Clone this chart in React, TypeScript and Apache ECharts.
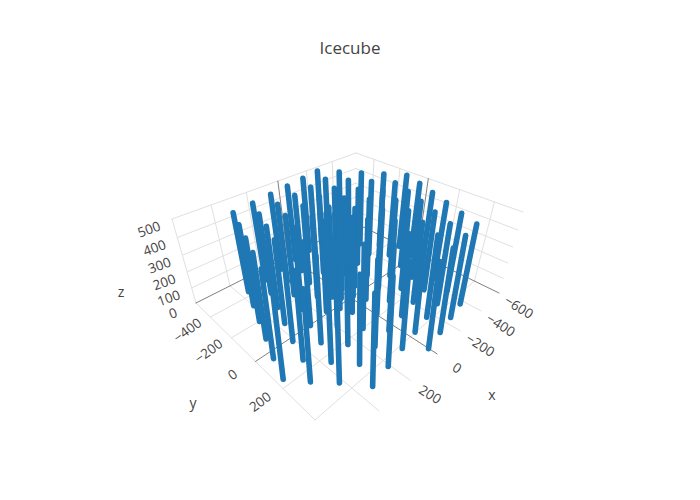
import React, { useEffect, useRef } from "react";
import * as echarts from "echarts";

// IceCube string positions (data units)
const stringX = [
  -256.1, -132.8, -9.1, 114.4, 237.8, 361.0,
  -334.8, -211.4, -88.0, 35.4, 158.8, 282.2, 405.6,
  -413.5, -290.1, -166.7, -43.3, 80.1, 203.5, 326.9, 450.3,
  -492.2, -368.8, -245.4, -122.0, 1.4, 124.8, 248.2, 371.6, 495.0,
  -570.9, -447.5, -324.1, -200.7, -77.3, 46.1, 169.5, 292.9, 416.3, 539.7,
  -534.2, -410.8, -287.4, -164.0, -40.6, 82.8, 206.2, 329.6, 453.0, 576.4,
  -489.6, -366.2, -242.8, -119.4, 4.0, 127.4, 250.8, 374.2, 505.0,
  -445.0, -321.6, -198.2, -74.8, 48.6, 172.0, 295.4, 424.0,
  -400.4, -277.0, -153.6, -30.2, 93.2, 216.6, 340.0,
  -360, -237, -113, 10,
  31.3, 72.4, 41.6, 106.9, 113.2, 57.2, -9.7, -11.0,
];
const stringY = [
  -521.1, -501.5, -481.7, -462.0, -442.4, -422.8,
  -424.1, -404.4, -384.7, -365.0, -345.3, -325.6, -305.9,
  -325.1, -305.4, -285.7, -266.0, -246.3, -226.6, -206.9, -187.2,
  -226.1, -206.4, -186.7, -167.0, -147.3, -127.6, -107.9, -88.2, -68.5,
  -125.1, -105.4, -85.7, -66.0, -46.3, -26.6, -6.9, 12.8, 32.5, 52.2,
  -6.4, 13.3, 33.0, 52.7, 72.4, 92.1, 111.8, 131.5, 151.2, 170.9,
  110.3, 130.0, 149.7, 169.4, 189.1, 208.8, 228.5, 248.2, 262.0,
  227.0, 246.7, 266.4, 286.1, 305.8, 325.5, 345.2, 352.0,
  343.7, 363.4, 383.1, 402.8, 422.5, 442.2, 461.9,
  450, 470, 490, 509,
  -72.9, -66.6, 35.5, 27.1, -60.5, -105.5, -79.5, 6.7,
];
const stringZBottom = 10;
const stringZTop = 490;

const xTicks = [-600, -400, -200, 0, 200, 400, 600];
const yTicks = [-400, -200, 0, 200, 400];
const zTicks = [0, 100, 200, 300, 400, 500];
const xLabels = [-600, -400, -200, 0, 200];
const yLabels = [-400, -200, 0, 200];
const zLabels = [0, 100, 200, 300, 400, 500];

const X_MIN = -600, X_MAX = 600, Y_MIN = -550, Y_MAX = 550, Z_MAX = 500;

type P = [number, number];

// plane-to-image homography through four correspondences
function homography(src: P[], dst: P[]): number[] {
  const A: number[][] = [];
  for (let i = 0; i < 4; i++) {
    const [x, y] = src[i];
    const [u, v] = dst[i];
    A.push([x, y, 1, 0, 0, 0, -u * x, -u * y, u]);
    A.push([0, 0, 0, x, y, 1, -v * x, -v * y, v]);
  }
  for (let c = 0; c < 8; c++) {
    let p = c;
    for (let r = c + 1; r < 8; r++) if (Math.abs(A[r][c]) > Math.abs(A[p][c])) p = r;
    [A[c], A[p]] = [A[p], A[c]];
    for (let r = 0; r < 8; r++) {
      if (r === c) continue;
      const f = A[r][c] / A[c][c];
      for (let k = c; k < 9; k++) A[r][k] -= f * A[c][k];
    }
  }
  return A.map((row, i) => row[8] / row[i]);
}
function applyH(h: number[], x: number, y: number): P {
  const w = h[6] * x + h[7] * y + 1;
  return [(h[0] * x + h[1] * y + h[2]) / w, (h[3] * x + h[4] * y + h[5]) / w];
}

const sceneCorners: P[] = [[X_MAX, Y_MIN], [X_MIN, Y_MIN], [X_MIN, Y_MAX], [X_MAX, 400]];
const floorImage: P[] = [[196, 303], [355, 223], [499, 293], [315, 420]];
const topImage: P[] = [[172, 219], [356, 153], [523, 212], [308, 317]];
const floorH = homography(sceneCorners, floorImage);
const topH = homography(sceneCorners, topImage);
const PERSPECTIVE = -0.12;

function project(x: number, y: number, z: number): P {
  const a = applyH(floorH, x, y);
  const b = applyH(topH, x, y);
  const t = z / Z_MAX;
  const f = (t * (1 + PERSPECTIVE)) / (1 + PERSPECTIVE * t);
  return [a[0] + (b[0] - a[0]) * f, a[1] + (b[1] - a[1]) * f];
}

const GRID = "#e0e0e0";
const ZERO = "#808080";
const BLUE = "#1f77b4";

function segment(p: P, q: P, color: string, width = 1) {
  return {
    type: "line",
    data: [p, q],
    showSymbol: false,
    silent: true,
    lineStyle: { color, width, cap: "round" },
  };
}

function buildOption() {
  const series: any[] = [];
  const light: any[] = [];
  const dark: any[] = [];
  const put = (isZero: boolean, p: P, q: P) =>
    (isZero ? dark : light).push(segment(p, q, isZero ? ZERO : GRID));

  for (const z of zTicks) {
    put(z === 0, project(X_MAX, Y_MIN, z), project(X_MIN, Y_MIN, z));
    put(z === 0, project(X_MIN, Y_MIN, z), project(X_MIN, Y_MAX, z));
  }
  for (const x of xTicks) {
    if (x !== X_MIN) put(x === 0, project(x, Y_MIN, 0), project(x, Y_MIN, Z_MAX));
    if (x !== X_MIN) put(x === 0, project(x, Y_MIN, 0), project(x, x === X_MAX ? 400 : Y_MAX, 0));
  }
  for (const y of yTicks) {
    put(y === 0, project(X_MIN, y, 0), project(X_MIN, y, Z_MAX));
    put(y === 0, project(X_MIN, y, 0), project(X_MAX, y, 0));
  }
  series.push(...light, ...dark);

  stringX.forEach((x, i) => {
    const y = stringY[i];
    series.push(segment(project(x, y, stringZBottom), project(x, y, stringZTop), BLUE, 5.6));
  });

  const label = (text: string, p: P, dx: number, dy: number, deg: number, size = 13.5) => ({
    type: "text",
    x: p[0] + dx,
    y: p[1] + dy,
    rotation: (deg * Math.PI) / 180,
    silent: true,
    style: {
      text,
      fill: "#444",
      fontFamily: "'Open Sans', sans-serif",
      fontSize: size,
      align: "center",
      verticalAlign: "middle",
    },
  });
  const tick = (v: number) => (v < 0 ? "\u2212" + Math.abs(v) : String(v));

  const graphic: any[] = [
    ...xLabels.map((v) => label(tick(v), project(v, Y_MAX, 0), 20, 14, -32)),
    ...yLabels.map((v) => label(tick(v), project(X_MAX, v, 0), -23, 13, 36)),
    ...zLabels.map((v) => label(tick(v), project(X_MAX, Y_MIN, v), -23, 10, 20)),
    label("x", [492, 394], 0, 0, 0, 14),
    label("y", [193, 402], 0, 0, 0, 14),
    label("z", [121, 291], 0, 0, 0, 14),
  ];

  return {
    animation: false,
    backgroundColor: "#fff",
    title: {
      text: "Icecube",
      left: "center",
      top: 34,
      textStyle: { color: "#444", fontFamily: "'Open Sans', sans-serif", fontSize: 17, fontWeight: "normal" },
    },
    grid: { left: 0, right: 0, top: 0, bottom: 0 },
    xAxis: { type: "value", min: 0, max: 700, show: false },
    yAxis: { type: "value", min: 0, max: 500, inverse: true, show: false },
    series,
    graphic,
  };
}

export default function App() {
  const ref = useRef<HTMLDivElement>(null);
  useEffect(() => {
    const chart = echarts.init(ref.current!, undefined, { renderer: "svg" });
    chart.setOption(buildOption());
    return () => chart.dispose();
  }, []);
  return <div ref={ref} style={{ position: "absolute", left: 0, top: 0, width: 700, height: 500 }} />;
}
